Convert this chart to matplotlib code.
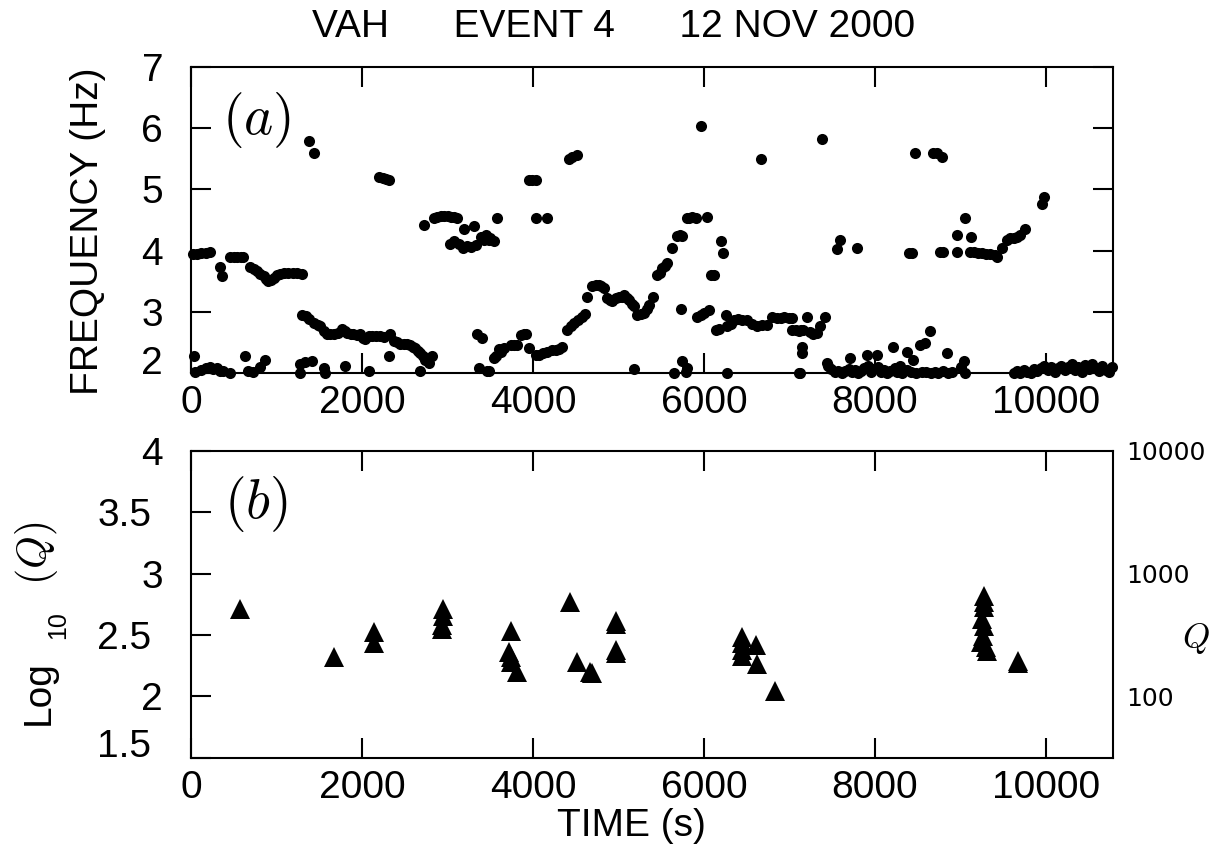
import numpy as np
import matplotlib
matplotlib.use("Agg")
import matplotlib.pyplot as plt
from matplotlib.transforms import ScaledTranslation

plt.rcParams['font.family'] = ['Liberation Sans', 'DejaVu Sans']
plt.rcParams['mathtext.fontset'] = 'cm'

# panel (a): frequency picks vs time
t_low = [30, 50, 120, 180, 220, 260, 300, 340, 380, 457, 633, 672, 720, 808, 867,
         1277, 1277, 1330, 1414, 1550, 1570, 1805, 2078, 2312, 2676, 3367, 3466, 3484]
f_low = [2.27, 2.02, 2.05, 2.08, 2.10, 2.06, 2.08, 2.04, 2.03, 2.00, 2.27, 2.03, 2.02, 2.10, 2.22,
         2.14, 2.00, 2.18, 2.19, 2.08, 2.00, 2.11, 2.03, 2.27, 2.03, 2.08, 2.03, 2.03]

t_band1 = [20, 70, 120, 170, 220, 340, 360, 457, 500, 540, 580, 613, 690, 740, 770, 810, 848,
           880, 906, 935, 965, 1000, 1043, 1090, 1140, 1190, 1240, 1297]
f_band1 = [3.94, 3.95, 3.96, 3.96, 3.97, 3.74, 3.59, 3.89, 3.89, 3.89, 3.89, 3.89, 3.74, 3.70,
           3.66, 3.62, 3.58, 3.53, 3.50, 3.52, 3.55, 3.60, 3.62, 3.63, 3.63, 3.63, 3.63, 3.62]

t_band2 = [1297, 1340, 1380, 1433, 1480, 1512, 1560, 1590, 1630, 1668, 1720, 1766, 1800, 1824,
           1870, 1900, 1940, 1980, 2010, 2040, 2080, 2117, 2160, 2215, 2260, 2332, 2371, 2410,
           2450, 2490, 2530, 2566, 2600, 2625, 2660, 2683, 2710, 2742, 2781, 2820]
f_band2 = [2.95, 2.93, 2.88, 2.82, 2.78, 2.76, 2.68, 2.63, 2.63, 2.63, 2.66, 2.72, 2.68, 2.65,
           2.64, 2.63, 2.62, 2.63, 2.58, 2.55, 2.60, 2.61, 2.60, 2.60, 2.59, 2.63, 2.52, 2.50,
           2.48, 2.47, 2.47, 2.46, 2.43, 2.41, 2.36, 2.33, 2.28, 2.22, 2.16, 2.27]

t_high = [1375, 1441, 2200, 2240, 2280, 2310, 3950, 3992, 4030, 4421, 4460, 4519, 5961, 6663,
          7375, 8469, 8684, 8720, 8781, 9953, 9973]
f_high = [5.79, 5.59, 5.20, 5.19, 5.17, 5.16, 5.16, 5.16, 5.16, 5.50, 5.53, 5.56, 6.04, 5.50,
          5.83, 5.60, 5.59, 5.60, 5.53, 4.76, 4.88]

t_mid = [2722, 2840, 2880, 2920, 2960, 3000, 3040, 3080, 3113, 3190, 3307, 3035, 3080, 3130,
         3180, 3230, 3280, 3330, 3390, 3430, 3480, 3540, 3445, 3500, 3583, 4031, 4160]
f_mid = [4.42, 4.53, 4.55, 4.56, 4.56, 4.56, 4.55, 4.55, 4.54, 4.36, 4.40, 4.10, 4.15, 4.10,
         4.05, 4.08, 4.06, 4.09, 4.22, 4.18, 4.17, 4.16, 4.26, 4.20, 4.53, 4.54, 4.54]

t_rise = [3347, 3406, 3543, 3563, 3600, 3620, 3660, 3740, 3780, 3817, 3860, 3890, 3920, 3953,
          4030, 4070, 4120, 4168, 4220, 4265, 4300, 4343, 4394, 4440, 4480, 4530, 4577, 4610,
          4636, 4695, 4740, 4772, 4800, 4830, 4870, 4900, 4928, 4970, 5006, 5040, 5064, 5100,
          5123, 5160, 5181, 5220, 5260, 5298, 5330, 5357, 5407, 5454, 5480, 5513, 5540, 5571,
          5629, 5688, 5720, 5747, 5800, 5825, 5860, 5903, 6031]
f_rise = [2.63, 2.57, 2.24, 2.27, 2.40, 2.35, 2.41, 2.46, 2.46, 2.46, 2.62, 2.64, 2.63, 2.41,
          2.30, 2.30, 2.33, 2.35, 2.37, 2.38, 2.40, 2.43, 2.70, 2.76, 2.82, 2.87, 2.92, 2.96,
          3.24, 3.42, 3.44, 3.44, 3.42, 3.39, 3.22, 3.20, 3.17, 3.22, 3.25, 3.25, 3.28, 3.22,
          3.20, 3.12, 3.09, 2.95, 2.97, 2.98, 3.05, 3.11, 3.25, 3.60, 3.63, 3.71, 3.75, 3.79,
          4.05, 4.24, 4.25, 4.24, 4.53, 4.54, 4.55, 4.54, 4.55]

t_band3 = [6078, 6117, 6195, 6226, 5727, 5922, 5960, 6000, 6059, 6137, 6170, 6254, 6273, 6310,
           6351, 6400, 6450, 6507, 6560, 6624, 6680, 6741, 6800, 6850, 6897, 6940, 6990, 7034,
           7034, 7080, 7112, 7130, 7160, 7199, 7238, 7270, 7316, 7355, 7414, 7141, 7141,
           5181, 5649, 5747, 5805, 5790, 6273, 7112, 7121]
f_band3 = [3.60, 3.60, 4.15, 3.96, 3.04, 2.91, 2.94, 2.98, 3.03, 2.70, 2.72, 2.95, 2.76, 2.80,
           2.86, 2.88, 2.87, 2.86, 2.80, 2.76, 2.78, 2.79, 2.92, 2.90, 2.90, 2.91, 2.90, 2.90,
           2.70, 2.71, 2.68, 2.70, 2.71, 2.92, 2.67, 2.64, 2.65, 2.76, 2.92, 2.43, 2.33,
           2.07, 2.00, 2.19, 2.08, 2.02, 2.00, 2.00, 2.00]

t_late = [7590, 7559, 7785, 8400, 8430, 8760, 8800, 8957, 9055, 8957, 9121, 9113, 9160, 9200,
          9250, 9300, 9350, 9400, 9426, 9484, 9543, 9580, 9620, 9660, 9700, 9758]
f_late = [4.17, 4.03, 4.05, 3.96, 3.96, 3.97, 3.97, 3.98, 4.53, 4.26, 4.23, 3.98, 3.97, 3.96,
          3.96, 3.95, 3.94, 3.92, 3.90, 4.04, 4.18, 4.20, 4.21, 4.22, 4.25, 4.36]

t_floor = [7434, 7450, 7490, 7530, 7570, 7610, 7650, 7690, 7707, 7730, 7770, 7800, 7840, 7870,
           7902, 7920, 7950, 7980, 8020, 8040, 8070, 8100, 8140, 8170, 8215, 8230, 8260, 8290,
           8320, 8371, 8380, 8420, 8449, 8480, 8527, 8550, 8586, 8600, 8645, 8660, 8700, 8740,
           8790, 8840, 8850, 8900, 9000, 9035, 9050,
           9620, 9660, 9700, 9740, 9780, 9820, 9860, 9900, 9940, 9980, 10020, 10060, 10100,
           10140, 10180, 10220, 10260, 10300, 10340, 10380, 10420, 10460, 10500, 10540, 10580,
           10620, 10660, 10700, 10740, 10770]
f_floor = [2.16, 2.12, 2.06, 2.02, 2.04, 2.00, 2.03, 2.06, 2.24, 2.02, 2.05, 2.00, 2.03, 2.08,
           2.30, 2.12, 2.02, 2.06, 2.30, 2.10, 2.02, 2.05, 2.00, 2.04, 2.42, 2.08, 2.02, 2.12,
           2.00, 2.35, 2.05, 2.02, 2.22, 2.00, 2.46, 2.01, 2.49, 2.02, 2.68, 2.00, 2.02, 2.00,
           2.03, 2.33, 2.00, 2.02, 2.10, 2.19, 2.00,
           2.00, 2.03, 2.00, 2.05, 2.02, 2.00, 2.06, 2.03, 2.08, 2.12, 2.05, 2.10, 2.02,
           2.08, 2.12, 2.05, 2.10, 2.14, 2.05, 2.10, 2.02, 2.13, 2.06, 2.15, 2.08,
           2.04, 2.12, 2.05, 2.01, 2.10]

# panel (b): log10 Q vs time
t_q = [574, 1668, 2137, 2137, 2945, 2945, 2940, 2940, 3738, 3720, 3740, 3745, 3808, 4429, 4511,
       4670, 4685, 4968, 4968, 4975, 4975, 6447, 6440, 6445, 6440, 6603, 6615, 6825,
       9276, 9276, 9270, 9255, 9270, 9265, 9245, 9300, 9310, 9669, 9669]
logq = [2.71, 2.32, 2.52, 2.43, 2.71, 2.65, 2.58, 2.55, 2.53, 2.36, 2.32, 2.28, 2.20, 2.77, 2.28,
        2.20, 2.19, 2.61, 2.59, 2.38, 2.35, 2.48, 2.43, 2.38, 2.33, 2.42, 2.26, 2.04,
        2.82, 2.77, 2.73, 2.63, 2.57, 2.49, 2.44, 2.40, 2.37, 2.29, 2.27]

x_ticks = [0, 2000, 4000, 6000, 8000, 10000]
freq_ticks = [2, 3, 4, 5, 6, 7]
logq_ticks = [1.5, 2, 2.5, 3, 3.5, 4]
q_ticks = [2, 3, 4]
q_labels = ["100", "1000", "10000"]

W, H = 1218, 858
fig = plt.figure(figsize=(W / 100, H / 100), dpi=100)
ax1 = fig.add_axes([191 / W, 1 - 373 / H, 921.7 / W, 306 / H])
ax2 = fig.add_axes([191 / W, 1 - 757.7 / H, 921.7 / W, 307 / H])

t_a = t_low + t_band1 + t_band2 + t_high + t_mid + t_rise + t_band3 + t_late + t_floor
f_a = f_low + f_band1 + f_band2 + f_high + f_mid + f_rise + f_band3 + f_late + f_floor
ax1.plot(t_a, f_a, 'o', color='black', ms=8, mew=0, clip_on=False, zorder=3)
ax2.plot(t_q, logq, '^', color='black', ms=14, mew=0, clip_on=False, zorder=3)

for ax in (ax1, ax2):
    ax.set_xlim(0, 10780)
    ax.set_xticks(x_ticks)
    ax.tick_params(direction='in', length=14.5, width=1.5, top=True, right=True,
                   labelsize=28, color='black')
    ax.tick_params(axis='x', pad=8.5)
    ax.tick_params(axis='y', pad=20)
    for s in ax.spines.values():
        s.set_linewidth(1.5)

ax1.set_ylim(2, 7)
ax1.set_yticks(freq_ticks)
ax2.set_ylim(1.5, 4)
ax2.set_yticks(logq_ticks)
ax2.set_yticklabels(["1.5", "2", "2.5", "3", "3.5", "4"])

# right-hand Q scale
axq = ax2.twinx()
axq.set_ylim(1.5, 4)
axq.set_yticks(q_ticks)
axq.set_yticklabels(q_labels)
axq.tick_params(axis='y', length=0, pad=10, labelsize=18)
for lab in axq.get_yticklabels():
    lab.set_family('DejaVu Sans')
for s in axq.spines.values():
    s.set_visible(False)

fig.canvas.draw()
# nudge bottom labels up and decimal labels left, as in the original
lab = ax1.get_yticklabels()[0]
lab.set_transform(lab.get_transform() + ScaledTranslation(0, 13 / 100, fig.dpi_scale_trans))
for i, lab in enumerate(ax2.get_yticklabels()):
    dx = -12 / 100 if '.' in lab.get_text() else 0
    dy = 15 / 100 if i == 0 else 0
    lab.set_transform(lab.get_transform() + ScaledTranslation(dx, dy, fig.dpi_scale_trans))

fig.text(614 / W, 1 - 27 / H, "VAH      EVENT 4      12 NOV 2000", ha='center', va='center', fontsize=28)
fig.text(88 / W, 1 - 231 / H, "FREQUENCY (Hz)", rotation=90, ha='center', va='center', fontsize=28)
fig.text(631 / W, 1 - 826 / H, "TIME (s)", ha='center', va='center', fontsize=28)
fig.text(257 / W, 1 - 120 / H, r"$(a)$", ha='center', va='center', fontsize=40)
fig.text(256 / W, 1 - 504 / H, r"$(b)$", ha='center', va='center', fontsize=40)
fig.text(39 / W, 1 - 693 / H, "Log", rotation=90, ha='center', va='center', fontsize=28)
fig.text(58 / W, 1 - 625 / H, "10", rotation=90, ha='center', va='center', fontsize=18)
fig.text(36 / W, 1 - 553 / H, r"$(Q)$", rotation=90, ha='center', va='center', fontsize=30)
fig.text(1196 / W, 1 - 638 / H, r"$Q$", ha='center', va='center', fontsize=25)

fig.savefig("out.png", dpi=100)
